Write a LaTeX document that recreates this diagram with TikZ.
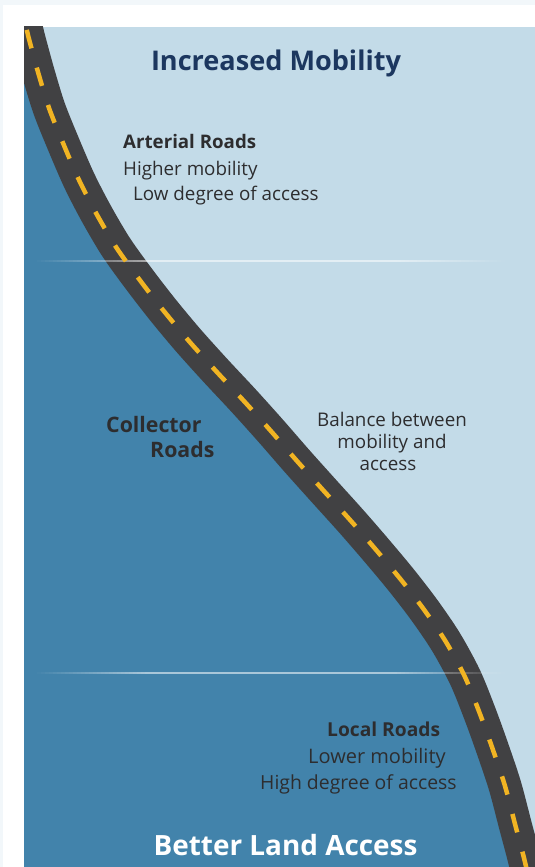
\documentclass[tikz,border=0pt]{standalone}
\usepackage{fontspec}
\setmainfont{Open Sans}
\definecolor{lightblue}{HTML}{C3DBE8}
\definecolor{deepblue}{HTML}{4283AB}
\definecolor{roadgray}{HTML}{414143}
\definecolor{laneyellow}{HTML}{F1B423}
\definecolor{navy}{HTML}{1C375F}
\definecolor{txt}{HTML}{2D2D2F}
\definecolor{outerbg}{HTML}{F2F7FA}
\begin{document}
\begin{tikzpicture}[x=1pt,y=1pt,
  bodytext/.style={inner sep=0pt, text=txt, font=\fontsize{18.8}{22}\selectfont},
  headtext/.style={inner sep=0pt, text=txt, font=\fontsize{18.7}{22}\selectfont\bfseries},
  bighead/.style={inner sep=0pt, text=txt, font=\fontsize{21.3}{25}\selectfont\bfseries},
  titletext/.style={inner sep=0pt, text=navy, font=\fontsize{27.1}{32}\selectfont\bfseries},
  bottomtext/.style={inner sep=0pt, text=white, font=\fontsize{27.9}{32}\selectfont\bfseries}]
\def\roadpath{plot[smooth, tension=0.5] coordinates {(15,880) (26,840) (29,828) (38,795) (49,759) (63,724) (79,687) (96,654) (116,620) (139,588) (163,557) (188,527) (215,497) (243,467) (270,437) (297,406) (323,377) (351,346) (377,316) (402,286) (425,256) (446,225) (465,190) (480,153) (493,117) (505,81) (515,43) (524,9) (529,-13)}}
\useasboundingbox (0,0) rectangle (535,867);
\fill[outerbg] (0,0) rectangle (535,867);
\fill[white] (3,0) rectangle (535,862);
\begin{scope}
  \clip (24,0) rectangle (535,840);
  \fill[lightblue] (24,0) rectangle (535,840);
  \fill[deepblue] \roadpath -- (0,-13) -- (0,880) -- cycle;
  \draw[roadgray, line width=33pt] \roadpath;
  \foreach \i in {0,...,116} {
    \pgfmathsetmacro\dd{min(\i, 116-\i)}
    \pgfmathsetmacro\op{0.55*min(1,(\dd+1)/28)}
    \fill[white, opacity=\op] (37+\i*4, 604.5) rectangle +(4.05,2.5);
    \fill[white, opacity=\op] (37+\i*4, 192.5) rectangle +(4.05,2.5);
  }
  \draw[laneyellow, line width=4.5pt, dash pattern=on 19pt off 20pt, dash phase=33.5pt] \roadpath;
\end{scope}
\node[titletext, anchor=base] (title) at (276,796) {Increased Mobility};
\node[headtext, anchor=base west] (art) at (123,718) {Arterial Roads};
\node[bodytext, anchor=base west] (art1) at (123,691) {Higher mobility};
\node[bodytext, anchor=base west] (art2) at (133,666) {Low degree of access};
\node[bighead, anchor=base west] (col1) at (106,434) {Collector};
\node[bighead, anchor=base west] (col2) at (150,409) {Roads};
\node[bodytext, anchor=base] (bal1) at (392,440) {Balance between};
\node[bodytext, anchor=base] (bal2) at (392,418) {mobility and};
\node[bodytext, anchor=base] (bal3) at (388,396) {access};
\node[headtext, font=\fontsize{19.2}{22}\selectfont\bfseries, anchor=base west] (loc) at (327,130) {Local Roads};
\node[bodytext, font=\fontsize{20}{22}\selectfont, anchor=base west] (loc1) at (308,103) {Lower mobility};
\node[bodytext, font=\fontsize{19.4}{22}\selectfont, anchor=base west] (loc2) at (260,77) {High degree of access};
\node[bottomtext, anchor=base] (bottom) at (285.5,11) {Better Land Access};
\end{tikzpicture}
\end{document}
